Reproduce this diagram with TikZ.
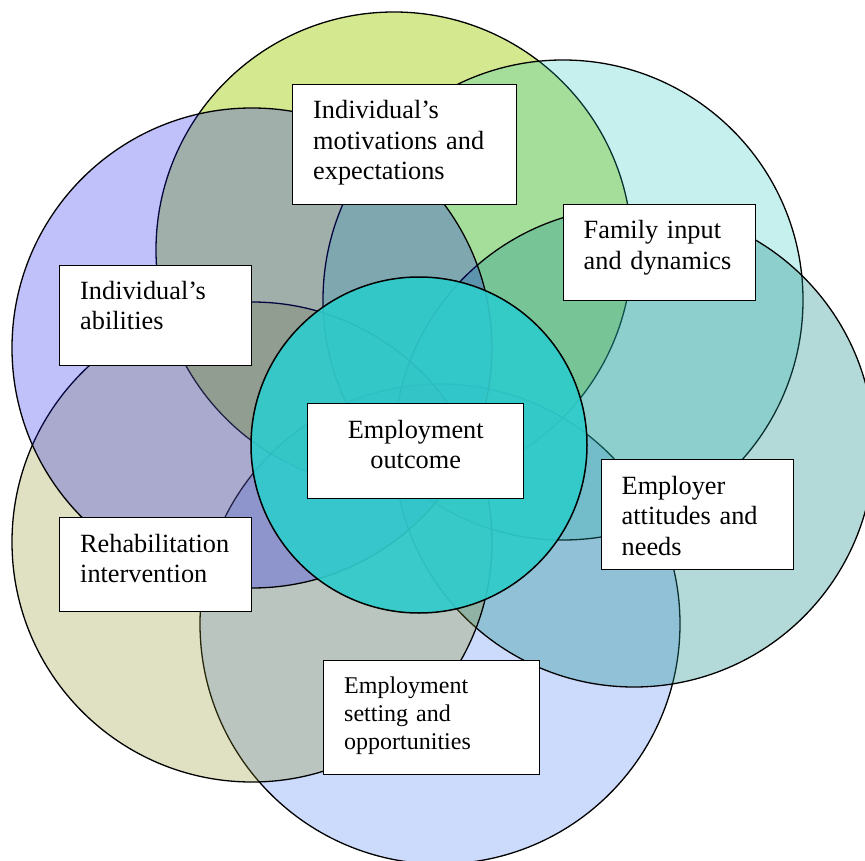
\documentclass[tikz,border=0pt]{standalone}
\usepackage{fontspec}
\setmainfont{Liberation Serif}

% translucent tints of the six factor circles and the central outcome circle
\definecolor{cGreen}{RGB}{169,209,33}
\definecolor{cBlue}{RGB}{52,108,244}
\definecolor{cCyan}{RGB}{28,196,188}
\definecolor{cTeal}{RGB}{32,144,141}
\definecolor{cOlive}{RGB}{141,141,30}
\definecolor{cPurple}{RGB}{22,22,237}
\definecolor{cCore}{RGB}{47,203,203}

\tikzset{
  ring/.style={draw=black, line width=1.3pt},
  labelbox/.style={draw=black, line width=1.4pt, fill=white, anchor=north west,
    inner sep=0pt},
  labeltext/.style={anchor=base west, inner sep=0pt, align=left, text width=#1,
    font=\fontsize{26.3}{30.5}\selectfont},
  smalltext/.style={labeltext=#1, font=\fontsize{24}{28}\selectfont},
}

\begin{document}
\begin{tikzpicture}[x=1pt,y=-1pt]
\useasboundingbox (0,0) rectangle (865,861);

\begin{scope}
  \clip (0,0) rectangle (865,861);
  % overlapping factor circles, bottom layer first
  \path[ring, fill=cGreen,  fill opacity=0.5]  (394,250) circle[radius=238pt];
  \path[ring, fill=cBlue,   fill opacity=0.25] (440,624) circle[radius=240pt];
  \path[ring, fill=cCyan,   fill opacity=0.25] (563,300) circle[radius=240pt];
  \path[ring, fill=cTeal,   fill opacity=0.34] (634,447) circle[radius=240pt];
  \path[ring, fill=cOlive,  fill opacity=0.27] (252,542) circle[radius=240pt];
  \path[ring, fill=cPurple, fill opacity=0.27] (252,348) circle[radius=240pt];
  % central circle
  \path[ring, line width=1.5pt, fill=cCore, fill opacity=0.92] (419,445) circle[radius=168pt];
\end{scope}

% label boxes
\node[labelbox, minimum width=224pt, minimum height=120pt] (motiv)    at (292,84)  {};
\node[labelbox, minimum width=192pt, minimum height=96pt]  (family)   at (563,204) {};
\node[labelbox, minimum width=192pt, minimum height=100pt] (abil)     at (59,265)  {};
\node[labelbox, minimum width=216pt, minimum height=95pt]  (outcome)  at (307,403) {};
\node[labelbox, minimum width=192pt, minimum height=110pt] (employer) at (601,459) {};
\node[labelbox, minimum width=192pt, minimum height=94pt]  (rehab)    at (59,517)  {};
\node[labelbox, minimum width=216pt, minimum height=114pt] (setting)  at (323,660) {};

% label texts, set from the top of each box
\node[labeltext=190pt, xshift=21pt, yshift=-35pt] (motivText) at (motiv.north west)
  {Individual’s\\motivations and\\expectations};
\node[labeltext=165pt, xshift=20.5pt, yshift=-35pt] (familyText) at (family.north west)
  {Family input\\and dynamics};
\node[labeltext=165pt, xshift=21pt, yshift=-34pt] (abilText) at (abil.north west)
  {Individual’s\\abilities};
\node[labeltext=200pt, align=center, anchor=base, yshift=-35pt] (outcomeText) at (outcome.north)
  {Employment\\outcome};
\node[labeltext=165pt, xshift=20.5pt, yshift=-35pt] (employerText) at (employer.north west)
  {Employer\\attitudes and\\needs};
\node[labeltext=170pt, xshift=21pt, yshift=-35pt] (rehabText) at (rehab.north west)
  {Rehabilitation\\intervention};
\node[smalltext=190pt, xshift=21pt, yshift=-33.5pt] (settingText) at (setting.north west)
  {Employment\\setting and\\opportunities};
\end{tikzpicture}
\end{document}
